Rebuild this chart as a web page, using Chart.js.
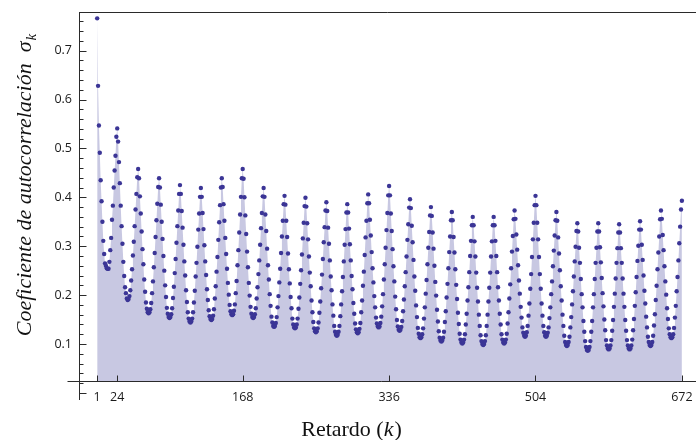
<!DOCTYPE html>
<html><head><meta charset="utf-8">
<script src="https://cdn.jsdelivr.net/npm/chart.js@4.4.1/dist/chart.umd.min.js"></script>
<style>html,body{margin:0;padding:0;background:#fff;}canvas{display:block;}</style>
</head><body>
<canvas id="c" width="696" height="440"></canvas>
<script>
// Autocorrelation coefficient for lags 1..672 (one row = 24 lags)
const autocorrelation = [
0.766,0.628,0.547,0.491,0.435,0.392,0.350,0.311,0.284,0.265,0.260,0.255,0.254,0.254,0.268,0.292,0.317,0.354,0.383,0.420,0.455,0.485,0.524,0.541,
0.514,0.472,0.429,0.383,0.341,0.305,0.268,0.239,0.216,0.204,0.193,0.190,0.192,0.198,0.210,0.230,0.253,0.281,0.309,0.341,0.375,0.407,0.441,0.458,
0.439,0.402,0.367,0.330,0.294,0.263,0.232,0.207,0.185,0.172,0.165,0.163,0.165,0.171,0.184,0.204,0.228,0.257,0.286,0.319,0.353,0.387,0.421,0.439,
0.420,0.385,0.350,0.315,0.280,0.250,0.220,0.196,0.174,0.162,0.155,0.153,0.155,0.161,0.173,0.194,0.217,0.245,0.274,0.307,0.341,0.373,0.407,0.425,
0.407,0.372,0.338,0.303,0.269,0.240,0.210,0.186,0.165,0.152,0.146,0.144,0.146,0.152,0.165,0.185,0.209,0.238,0.266,0.299,0.334,0.367,0.401,0.419,
0.401,0.368,0.335,0.302,0.269,0.241,0.212,0.190,0.169,0.157,0.151,0.149,0.151,0.158,0.171,0.193,0.218,0.248,0.278,0.313,0.349,0.384,0.420,0.439,
0.421,0.386,0.352,0.317,0.284,0.254,0.225,0.201,0.180,0.167,0.161,0.159,0.161,0.168,0.181,0.204,0.229,0.261,0.292,0.328,0.365,0.401,0.439,0.458,
0.438,0.400,0.363,0.325,0.289,0.257,0.225,0.199,0.176,0.162,0.155,0.153,0.155,0.161,0.173,0.193,0.216,0.243,0.271,0.303,0.337,0.368,0.402,0.419,
0.401,0.365,0.331,0.295,0.261,0.232,0.202,0.178,0.156,0.144,0.137,0.135,0.137,0.143,0.155,0.175,0.198,0.226,0.254,0.286,0.320,0.352,0.386,0.403,
0.385,0.352,0.319,0.285,0.253,0.224,0.196,0.173,0.152,0.140,0.134,0.132,0.134,0.140,0.152,0.172,0.195,0.223,0.251,0.283,0.316,0.348,0.382,0.399,
0.381,0.347,0.314,0.279,0.246,0.218,0.189,0.165,0.145,0.132,0.126,0.124,0.126,0.132,0.144,0.164,0.187,0.214,0.242,0.274,0.308,0.339,0.373,0.390,
0.372,0.338,0.305,0.271,0.238,0.210,0.181,0.158,0.137,0.125,0.119,0.117,0.119,0.125,0.137,0.157,0.181,0.208,0.237,0.269,0.303,0.335,0.369,0.386,
0.369,0.336,0.304,0.271,0.239,0.212,0.184,0.162,0.142,0.130,0.124,0.122,0.124,0.131,0.143,0.165,0.189,0.219,0.248,0.282,0.318,0.352,0.388,0.406,
0.388,0.354,0.322,0.288,0.255,0.226,0.198,0.175,0.154,0.142,0.136,0.134,0.136,0.143,0.156,0.177,0.202,0.232,0.263,0.297,0.333,0.368,0.404,0.423,
0.404,0.367,0.331,0.294,0.259,0.228,0.197,0.171,0.149,0.136,0.129,0.127,0.129,0.135,0.147,0.167,0.191,0.218,0.247,0.279,0.313,0.345,0.379,0.396,
0.378,0.342,0.308,0.272,0.238,0.209,0.179,0.155,0.133,0.121,0.114,0.112,0.114,0.120,0.132,0.152,0.175,0.203,0.231,0.263,0.297,0.329,0.363,0.380,
0.362,0.328,0.295,0.260,0.227,0.199,0.170,0.146,0.126,0.113,0.107,0.105,0.107,0.113,0.125,0.145,0.167,0.195,0.223,0.255,0.288,0.320,0.353,0.370,
0.353,0.319,0.287,0.253,0.221,0.192,0.164,0.141,0.121,0.109,0.103,0.101,0.103,0.109,0.120,0.140,0.162,0.189,0.216,0.247,0.280,0.311,0.343,0.360,
0.343,0.310,0.279,0.246,0.215,0.187,0.160,0.137,0.118,0.106,0.100,0.098,0.100,0.106,0.118,0.137,0.160,0.187,0.215,0.246,0.279,0.310,0.343,0.360,
0.343,0.311,0.280,0.247,0.216,0.189,0.162,0.140,0.120,0.109,0.103,0.101,0.103,0.109,0.121,0.142,0.165,0.193,0.222,0.255,0.289,0.321,0.355,0.373,
0.356,0.324,0.293,0.261,0.230,0.203,0.176,0.154,0.134,0.123,0.117,0.115,0.117,0.124,0.137,0.158,0.183,0.213,0.243,0.278,0.314,0.348,0.384,0.403,
0.384,0.348,0.314,0.278,0.243,0.213,0.183,0.158,0.137,0.124,0.117,0.115,0.117,0.123,0.134,0.153,0.175,0.202,0.228,0.259,0.291,0.322,0.353,0.370,
0.352,0.318,0.285,0.251,0.218,0.189,0.160,0.137,0.117,0.104,0.098,0.096,0.098,0.104,0.115,0.134,0.155,0.181,0.208,0.238,0.269,0.299,0.331,0.347,
0.330,0.297,0.266,0.233,0.202,0.175,0.147,0.125,0.106,0.094,0.088,0.086,0.088,0.094,0.106,0.125,0.147,0.175,0.202,0.233,0.266,0.297,0.330,0.347,
0.330,0.298,0.267,0.235,0.204,0.177,0.150,0.128,0.108,0.097,0.091,0.089,0.091,0.097,0.108,0.127,0.149,0.176,0.203,0.234,0.266,0.296,0.328,0.345,
0.328,0.296,0.266,0.234,0.203,0.176,0.149,0.127,0.108,0.097,0.091,0.089,0.091,0.097,0.109,0.128,0.151,0.178,0.206,0.237,0.270,0.301,0.334,0.351,
0.334,0.303,0.272,0.240,0.209,0.183,0.156,0.134,0.115,0.104,0.098,0.096,0.098,0.104,0.117,0.138,0.161,0.190,0.219,0.253,0.287,0.320,0.355,0.373,
0.356,0.323,0.292,0.259,0.228,0.201,0.173,0.151,0.132,0.120,0.114,0.112,0.114,0.120,0.133,0.154,0.178,0.208,0.237,0.271,0.306,0.340,0.375,0.393
];
const xTickLags = [1, 24, 168, 336, 504, 672];
const yTickLabels = [0.1, 0.2, 0.3, 0.4, 0.5, 0.6, 0.7];
const axisOrigin = 0.024;

const points = autocorrelation.map((v, i) => ({ x: i + 1, y: v }));

const framePlugin = {
  id: 'frame',
  afterDraw(chart) {
    const { ctx, chartArea: a, scales: { x, y } } = chart;
    ctx.save();
    ctx.strokeStyle = '#2a2a2a';
    ctx.lineWidth = 1;
    const L = Math.round(a.left) + 0.5;
    const T = Math.round(a.top) + 0.5;
    const AY = Math.round(y.getPixelForValue(axisOrigin)) + 0.5;
    ctx.beginPath();
    ctx.moveTo(L, a.top); ctx.lineTo(L, a.bottom);
    ctx.moveTo(L, T); ctx.lineTo(chart.width, T);
    ctx.moveTo(L - 12, AY); ctx.lineTo(chart.width, AY);
    for (let i = 0; i <= 38; i++) {
      const py = Math.round(y.getPixelForValue(i * 0.02)) + 0.5;
      const len = (i % 5 === 0) ? 7 : 4;
      ctx.moveTo(L, py); ctx.lineTo(L + len, py);
    }
    xTickLags.forEach(v => {
      const px = Math.round(x.getPixelForValue(v)) + 0.5;
      ctx.moveTo(px, AY); ctx.lineTo(px, AY - 6);
    });
    ctx.stroke();

    // X title: Retardo (k)
    ctx.fillStyle = '#111';
    ctx.textBaseline = 'alphabetic';
    const up = '22px "Liberation Serif"', it = 'italic 22px "Liberation Serif"';
    ctx.font = up; const w1 = ctx.measureText('Retardo (').width; const w3 = ctx.measureText(')').width;
    ctx.font = it; const w2 = ctx.measureText('k').width;
    let sx = chart.width / 2 + 3 - (w1 + w2 + w3) / 2;
    ctx.font = up; ctx.fillText('Retardo (', sx, 436);
    ctx.font = it; ctx.fillText('k', sx + w1, 436);
    ctx.font = up; ctx.fillText(')', sx + w1 + w2 + 1, 436);

    // Y title
    ctx.translate(31, 185.5);
    ctx.rotate(-Math.PI / 2);
    const main = 'Coeficiente de autocorrelación  σ';
    ctx.font = it; const wm = ctx.measureText(main).width;
    const sub = 'italic 15px "Liberation Serif"';
    ctx.font = sub; const wk = ctx.measureText('k').width;
    const s = -(wm + wk) / 2;
    ctx.font = it; ctx.fillText(main, s, 0);
    ctx.font = sub; ctx.fillText('k', s + wm + 1, 5);
    ctx.restore();
  }
};

new Chart(document.getElementById('c').getContext('2d'), {
  type: 'line',
  data: {
    datasets: [{
      data: points,
      showLine: true,
      borderWidth: 0,
      borderColor: 'rgba(0,0,0,0)',
      backgroundColor: '#c8c8e2',
      fill: { value: axisOrigin },
      tension: 0,
      pointRadius: 2.2,
      pointBorderWidth: 0,
      pointBackgroundColor: '#3b3596'
    }]
  },
  options: {
    responsive: false,
    animation: false,
    devicePixelRatio: 1,
    layout: { padding: { top: 12, left: 0, right: 0, bottom: 40 } },
    plugins: { legend: { display: false }, tooltip: { enabled: false } },
    scales: {
      x: {
        type: 'linear', min: -19.87, max: 683.6,
        position: { y: axisOrigin },
        grid: { display: false, drawTicks: false },
        border: { display: false },
        ticks: { padding: 9, autoSkip: false, maxRotation: 0, color: '#1a1a1a',
                 font: { family: 'Open Sans', size: 12.5 } },
        afterBuildTicks: s => { s.ticks = xTickLags.map(v => ({ value: v })); },
        afterFit: s => { s.paddingLeft = 0; s.paddingRight = 0; }
      },
      y: {
        min: -0.0145, max: 0.779,
        grid: { display: false, drawTicks: false },
        border: { display: false },
        ticks: { padding: 7, autoSkip: false, color: '#1a1a1a',
                 font: { family: 'Open Sans', size: 12.5 },
                 callback: v => Number(v).toFixed(1) },
        afterBuildTicks: s => { s.ticks = yTickLabels.map(v => ({ value: v })); },
        afterFit: s => { s.width = 79; s.paddingTop = 0; s.paddingBottom = 0; }
      }
    }
  },
  plugins: [framePlugin]
});
</script>
</body></html>
